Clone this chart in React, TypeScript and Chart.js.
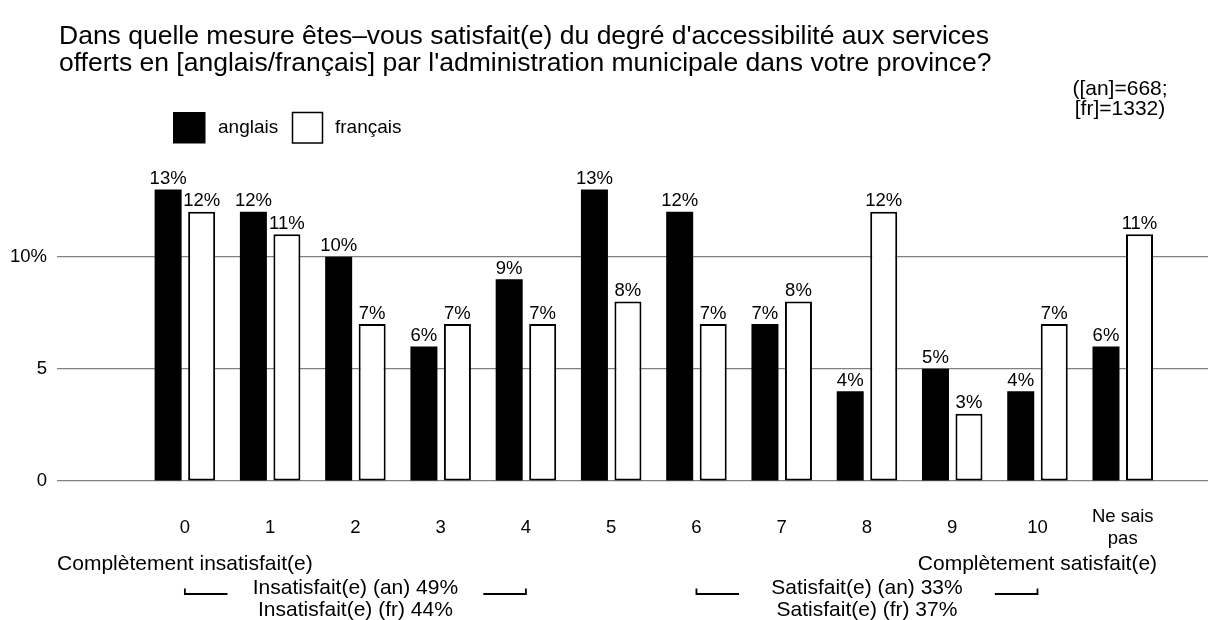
import React, { useEffect, useRef } from 'react';
import { Chart, registerables } from 'chart.js';

Chart.register(...registerables);

const FONT = '"Liberation Sans", Arial, Helvetica, sans-serif';

const categories = ['0', '1', '2', '3', '4', '5', '6', '7', '8', '9', '10', 'Ne sais pas'];
const xTickLines: (string | string[])[] = ['0', '1', '2', '3', '4', '5', '6', '7', '8', '9', '10', ['Ne sais', 'pas']];
const anglais = [13, 12, 10, 6, 9, 13, 12, 7, 4, 5, 4, 6];
const francais = [12, 11, 7, 7, 7, 8, 7, 8, 12, 3, 7, 11];
const yTicks = [0, 5, 10];
const seriesNames = ['anglais', 'français'];
const titleLines = [
  "Dans quelle mesure êtes–vous satisfait(e) du degré d'accessibilité aux services",
  "offerts en [anglais/français] par l'administration municipale dans votre province?",
];
const noteLines = ['([an]=668;', '[fr]=1332)'];
const endLabels = [
  { cat: 0, text: 'Complètement insatisfait(e)' },
  { cat: 10, text: 'Complètement satisfait(e)' },
];
const groupNotes = [
  { from: 0, to: 4, lines: ['Insatisfait(e) (an) 49%', 'Insatisfait(e) (fr) 44%'] },
  { from: 6, to: 10, lines: ['Satisfait(e) (an) 33%', 'Satisfait(e) (fr) 37%'] },
];

const annotate = {
  id: 'annotate',
  afterDatasetsDraw(chart: any) {
    const ctx = chart.ctx;
    ctx.save();
    ctx.font = `18.5px ${FONT}`;
    ctx.fillStyle = '#000';
    ctx.textAlign = 'center';
    ctx.textBaseline = 'alphabetic';
    chart.data.datasets.forEach((ds: any, di: number) => {
      const meta = chart.getDatasetMeta(di);
      meta.data.forEach((bar: any, i: number) => {
        const v = ds.data[i].y;
        ctx.fillText(`${v}%`, bar.x, bar.y - 5.5);
      });
    });
    ctx.restore();
  },
  afterDraw(chart: any) {
    const ctx = chart.ctx;
    const xs = chart.scales.x;
    ctx.save();
    ctx.fillStyle = '#000';
    ctx.strokeStyle = '#000';

    // Title
    ctx.font = `26.5px ${FONT}`;
    ctx.textAlign = 'left';
    ctx.textBaseline = 'alphabetic';
    titleLines.forEach((t, i) => ctx.fillText(t, 59, 44 + i * 26.5));

    // Note (top right)
    ctx.font = `21px ${FONT}`;
    ctx.textAlign = 'center';
    noteLines.forEach((t, i) => ctx.fillText(t, 1120, 95 + i * 20));

    // Legend
    ctx.font = `19px ${FONT}`;
    ctx.textAlign = 'left';
    ctx.textBaseline = 'middle';
    ctx.fillRect(173, 112, 32.5, 31.5);
    ctx.fillText(seriesNames[0], 218, 128);
    ctx.lineWidth = 1.5;
    ctx.fillStyle = '#fff';
    ctx.fillRect(292.5, 112.5, 30, 30.5);
    ctx.strokeRect(292.5, 112.5, 30, 30.5);
    ctx.fillStyle = '#000';
    ctx.fillText(seriesNames[1], 335, 128);

    // Bottom annotations
    ctx.font = `21px ${FONT}`;
    ctx.textAlign = 'center';
    ctx.textBaseline = 'alphabetic';
    endLabels.forEach((e) => ctx.fillText(e.text, xs.getPixelForValue(e.cat), 569.5));
    ctx.lineWidth = 1.8;
    groupNotes.forEach((g) => {
      const x0 = xs.getPixelForValue(g.from);
      const x1 = xs.getPixelForValue(g.to);
      const xh0 = xs.getPixelForValue(g.from + 0.5);
      const xh1 = xs.getPixelForValue(g.to - 0.5);
      ctx.fillText(g.lines[0], (x0 + x1) / 2, 593.5);
      ctx.fillText(g.lines[1], (x0 + x1) / 2, 616);
      ctx.beginPath();
      ctx.moveTo(x0, 588.5);
      ctx.lineTo(x0, 594);
      ctx.lineTo(xh0, 594);
      ctx.moveTo(xh1, 594);
      ctx.lineTo(x1, 594);
      ctx.lineTo(x1, 588.5);
      ctx.stroke();
    });
    ctx.restore();
  },
};

export default function App() {
  const canvasRef = useRef<HTMLCanvasElement | null>(null);

  useEffect(() => {
    if (!canvasRef.current) return;
    const chart = new Chart(canvasRef.current, {
      type: 'bar',
      data: {
        datasets: [
          {
            label: seriesNames[0],
            data: anglais.map((v, i) => ({ x: i, y: v })),
            backgroundColor: '#000',
            borderColor: '#000',
            borderWidth: 0,
            categoryPercentage: 0.786,
            barPercentage: 0.806,
          },
          {
            label: seriesNames[1],
            data: francais.map((v, i) => ({ x: i, y: v })),
            backgroundColor: '#fff',
            borderColor: '#000',
            borderWidth: 2,
            borderSkipped: false,
            categoryPercentage: 0.786,
            barPercentage: 0.806,
          },
        ],
      } as any,
      options: {
        animation: false,
        responsive: true,
        maintainAspectRatio: false,
        layout: { padding: { top: 167, left: 0, right: 0, bottom: 0 } },
        plugins: {
          legend: { display: false },
          title: { display: false },
          tooltip: { enabled: false },
        },
        scales: {
          x: {
            type: 'linear',
            min: -1.5,
            max: 12,
            offset: false,
            grid: { display: false, drawTicks: false, offset: false },
            border: { display: false },
            afterBuildTicks: (s: any) => {
              s.ticks = categories.map((_, i) => ({ value: i }));
            },
            afterFit: (s: any) => {
              s.height = 139;
            },
            ticks: {
              autoSkip: false,
              maxRotation: 0,
              minRotation: 0,
              padding: 36,
              crossAlign: 'center',
              color: '#000',
              font: { size: 18.5, family: FONT },
              callback: (_v: any, i: number) => xTickLines[i],
            },
          },
          y: {
            min: 0,
            max: 14,
            afterBuildTicks: (s: any) => {
              s.ticks = yTicks.map((v) => ({ value: v }));
            },
            afterFit: (s: any) => {
              s.width = 57;
            },
            grid: { color: '#808080', lineWidth: 1.2, drawTicks: false },
            border: { display: false },
            ticks: {
              padding: 10,
              color: '#000',
              font: { size: 18.5, family: FONT },
              callback: (v: any) => (v === 10 ? '10%' : String(v)),
            },
          },
        },
      } as any,
      plugins: [annotate],
    });
    return () => chart.destroy();
  }, []);

  return (
    <div style={{ position: 'fixed', left: 0, top: 0, width: 1208, height: 620, background: '#fff' }}>
      <canvas ref={canvasRef} />
    </div>
  );
}
